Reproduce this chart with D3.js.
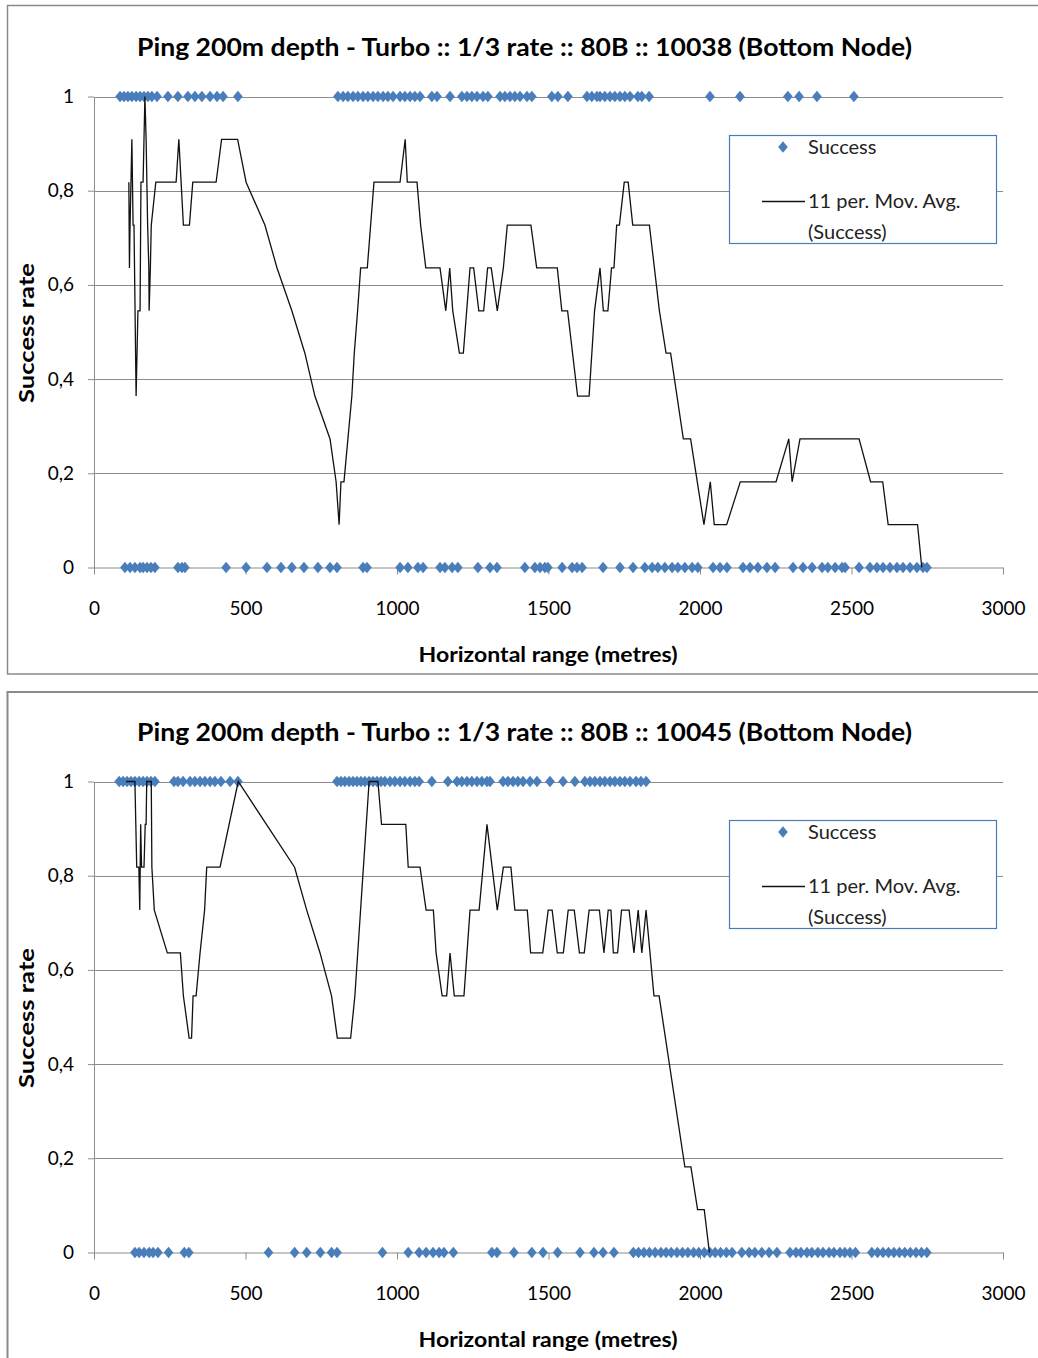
<!DOCTYPE html>
<html>
<head>
<meta charset="utf-8">
<script src="https://cdn.jsdelivr.net/npm/d3@7"></script>
<style>
  body { margin: 0; background: #fff; }
  svg { display: block; }
</style>
</head>
<body>
<div id="chart"></div>
<script>
// axis ticks
const xTicks = [0, 500, 1000, 1500, 2000, 2500, 3000]
const yTicks = [0, 0.2, 0.4, 0.6, 0.8, 1]
const yTickLabels = ['0', '0,2', '0,4', '0,6', '0,8', '1']

const titles = [
  'Ping 200m depth - Turbo :: 1/3 rate :: 80B :: 10038 (Bottom Node)',
  'Ping 200m depth - Turbo :: 1/3 rate :: 80B :: 10045 (Bottom Node)',
]
const xLabel = 'Horizontal range (metres)'
const yLabel = 'Success rate'
const legendLabels = ['Success', '11 per. Mov. Avg.', '(Success)']

// node 10038: ranges of pings that succeeded (1) / failed (0)
const success10038 = [86, 99, 112, 125, 139, 152, 165, 178, 191, 208, 244, 277, 310, 333, 356, 383, 406, 426, 475,
  805, 822, 838, 855, 871, 888, 904, 921, 937, 954, 970, 987, 1010, 1026, 1043, 1059, 1076, 1115, 1132, 1175,
  1214, 1231, 1247, 1264, 1284, 1300, 1340, 1356, 1373, 1389, 1406, 1429, 1445, 1511, 1531, 1564,
  1627, 1643, 1660, 1670, 1686, 1703, 1719, 1736, 1752, 1769, 1795, 1808, 1832, 2033, 2132, 2290, 2327, 2386, 2508]
const failure10038 = [102, 119, 135, 152, 162, 175, 188, 201, 277, 290, 300, 436, 502, 571, 617, 653, 693, 739, 779, 802,
  888, 901, 1010, 1036, 1069, 1086, 1142, 1158, 1182, 1201, 1267, 1307, 1330, 1422, 1455, 1472, 1488, 1498,
  1545, 1578, 1594, 1611, 1680, 1736, 1779, 1818, 1842, 1861, 1884, 1908, 1927, 1950, 1974, 1993,
  2043, 2066, 2089, 2142, 2165, 2191, 2221, 2248, 2307, 2340, 2370, 2403, 2422, 2446, 2469, 2479,
  2525, 2561, 2584, 2604, 2627, 2650, 2670, 2693, 2716, 2736, 2749]
const movAvg10038 = [
  [115, 0.818], [117, 0.636], [119, 0.727], [125, 0.909], [129, 0.727], [132, 0.727], [139, 0.364], [142, 0.455],
  [145, 0.545], [152, 0.545], [155, 0.818], [162, 0.818], [168, 1], [172, 0.909], [177, 0.727], [181, 0.636],
  [182, 0.545], [186, 0.636], [189, 0.727], [204, 0.818], [271, 0.818], [280, 0.909], [295, 0.727], [315, 0.727],
  [326, 0.818], [403, 0.818], [421, 0.909], [474, 0.909], [502, 0.818], [564, 0.727], [604, 0.636], [653, 0.545],
  [696, 0.455], [729, 0.364], [779, 0.273], [799, 0.182], [809, 0.091], [815, 0.182], [825, 0.182], [838, 0.273],
  [851, 0.364], [859, 0.455], [870, 0.545], [880, 0.636], [902, 0.636], [924, 0.818], [1010, 0.818], [1027, 0.909],
  [1034, 0.818], [1066, 0.818], [1078, 0.727], [1095, 0.636], [1142, 0.636], [1161, 0.545], [1174, 0.636],
  [1184, 0.545], [1206, 0.455], [1219, 0.455], [1241, 0.636], [1253, 0.636], [1270, 0.545], [1286, 0.545],
  [1299, 0.636], [1311, 0.636], [1331, 0.545], [1351, 0.636], [1364, 0.727], [1442, 0.727], [1461, 0.636],
  [1529, 0.636], [1544, 0.545], [1563, 0.545], [1596, 0.364], [1634, 0.364], [1652, 0.545], [1670, 0.636],
  [1681, 0.545], [1696, 0.545], [1708, 0.636], [1716, 0.636], [1725, 0.727], [1734, 0.727], [1750, 0.818],
  [1763, 0.818], [1778, 0.727], [1833, 0.727], [1866, 0.545], [1888, 0.455], [1903, 0.455], [1945, 0.273],
  [1969, 0.273], [2013, 0.091], [2034, 0.182], [2047, 0.091], [2088, 0.091], [2133, 0.182], [2251, 0.182],
  [2293, 0.273], [2304, 0.182], [2330, 0.273], [2525, 0.273], [2563, 0.182], [2603, 0.182], [2621, 0.091],
  [2718, 0.091], [2732, 0],
]

// node 10045
const success10045 = [83, 96, 109, 122, 135, 149, 162, 175, 188, 201, 264, 277, 294, 317, 333, 350, 366, 383, 399,
  419, 449, 475, 802, 815, 828, 842, 855, 868, 881, 894, 908, 921, 934, 947, 960, 977, 993, 1010, 1026, 1043,
  1059, 1073, 1115, 1168, 1198, 1214, 1231, 1247, 1264, 1280, 1297, 1307, 1350, 1366, 1383, 1399, 1416, 1439,
  1462, 1505, 1548, 1587, 1620, 1637, 1653, 1670, 1686, 1703, 1719, 1736, 1752, 1769, 1789, 1805, 1822]
const failure10045 = [135, 149, 165, 182, 195, 211, 246, 298, 313, 576, 662, 702, 747, 784, 802, 952, 1037,
  1073, 1096, 1119, 1139, 1155, 1186, 1313, 1330, 1386, 1445, 1482, 1530, 1604, 1650, 1680, 1716,
  1780, 1797, 1815, 1833, 1852, 1871, 1888, 1905, 1924, 1942, 1960, 1979, 1996, 2014, 2033, 2050, 2068, 2087, 2106,
  2138, 2162, 2181, 2204, 2228, 2254, 2297, 2317, 2333, 2353, 2369, 2389, 2406, 2426, 2442, 2462, 2478, 2495,
  2513, 2567, 2586, 2604, 2622, 2640, 2658, 2676, 2694, 2713, 2731, 2749]
const movAvg10045 = [
  [106, 1], [135, 1], [141, 0.818], [148, 0.818], [151, 0.727], [154, 0.909], [157, 0.818], [165, 0.818],
  [169, 0.909], [172, 0.909], [174, 1], [189, 1], [191, 0.818], [199, 0.727], [242, 0.636], [285, 0.636],
  [295, 0.545], [314, 0.455], [322, 0.455], [327, 0.545], [337, 0.545], [350, 0.636], [365, 0.727], [372, 0.818],
  [416, 0.818], [476, 1], [662, 0.818], [702, 0.727], [746, 0.636], [784, 0.545], [803, 0.455], [847, 0.455],
  [861, 0.545], [908, 1], [937, 1], [949, 0.909], [1029, 0.909], [1037, 0.818], [1076, 0.818], [1096, 0.727],
  [1120, 0.727], [1129, 0.636], [1149, 0.545], [1164, 0.545], [1175, 0.636], [1189, 0.545], [1221, 0.545],
  [1241, 0.727], [1271, 0.727], [1297, 0.909], [1331, 0.727], [1351, 0.818], [1376, 0.818], [1389, 0.727],
  [1430, 0.727], [1441, 0.636], [1481, 0.636], [1499, 0.727], [1512, 0.727], [1529, 0.636], [1549, 0.636],
  [1565, 0.727], [1585, 0.727], [1602, 0.636], [1618, 0.636], [1634, 0.727], [1668, 0.727], [1683, 0.636],
  [1697, 0.727], [1706, 0.727], [1714, 0.636], [1728, 0.636], [1741, 0.727], [1766, 0.727], [1782, 0.636],
  [1796, 0.727], [1808, 0.636], [1822, 0.727], [1848, 0.545], [1865, 0.545], [1950, 0.182], [1970, 0.182],
  [1992, 0.091], [2014, 0.091], [2031, 0],
]

const width = 1038
const height = 1358
const blue = '#4a7ebb'
const grid = '#8c8c8c'
const font = 'Lato, "Open Sans", sans-serif'

const svg = d3.select('#chart').append('svg')
  .attr('width', width)
  .attr('height', height)
  .style('font-family', font)

// diamond marker, a bit squarer than d3.symbolDiamond
const diamond = {
  draw(ctx, size) {
    const r = Math.sqrt(size) / 2
    ctx.moveTo(0, -r * 1.1)
    ctx.lineTo(r * 0.92, 0)
    ctx.lineTo(0, r * 1.1)
    ctx.lineTo(-r * 0.92, 0)
    ctx.closePath()
  },
}
const markerSize = 110

const panels = [
  { top: 0, title: titles[0], success: success10038, failure: failure10038, avg: movAvg10038 },
  { top: 685, title: titles[1], success: success10045, failure: failure10045, avg: movAvg10045 },
]

const x = d3.scaleLinear().domain([0, 3000]).range([94, 1003])

panels.forEach((p, i) => {
  const g = svg.append('g')
  const y = d3.scaleLinear().domain([0, 1]).range([p.top + 567.5, p.top + 96.5])

  // frame
  g.append('rect')
    .attr('x', 7.5)
    .attr('y', i === 0 ? 5.5 : 692)
    .attr('width', 1040)
    .attr('height', i === 0 ? 668.5 : 700)
    .attr('fill', 'none')
    .attr('stroke', '#8a8a8a')
    .attr('stroke-width', i === 0 ? 1.5 : 2)

  g.append('text')
    .attr('x', 524.5)
    .attr('y', p.top + 56)
    .attr('text-anchor', 'middle')
    .attr('font-size', 25)
    .attr('font-weight', 'bold')
    .attr('textLength', 775)
    .attr('lengthAdjust', 'spacingAndGlyphs')
    .text(p.title)

  // gridlines
  g.append('g')
    .selectAll('line')
    .data(yTicks.filter((d) => d > 0))
    .join('line')
    .attr('x1', x(0))
    .attr('x2', x(3000))
    .attr('y1', (d) => Math.round(y(d)) + 0.5)
    .attr('y2', (d) => Math.round(y(d)) + 0.5)
    .attr('stroke', grid)
    .attr('stroke-width', 1)

  const yAxis = g.append('g')
    .attr('transform', `translate(${x(0)},0)`)
    .call(d3.axisLeft(y).tickValues(yTicks).tickFormat((d, j) => yTickLabels[j]).tickSize(6).tickSizeOuter(0).tickPadding(14))
  yAxis.select('.domain').attr('stroke', grid)
  yAxis.selectAll('.tick line').attr('stroke', grid)
  yAxis.selectAll('text').attr('font-size', 19).attr('font-family', font).attr('fill', '#000')

  const xAxis = g.append('g')
    .attr('transform', `translate(0,${y(0)})`)
    .call(d3.axisBottom(x).tickValues(xTicks).tickFormat(d3.format('d')).tickSize(7).tickSizeOuter(0).tickPadding(27))
  xAxis.select('.domain').attr('stroke', grid)
  xAxis.selectAll('.tick line').attr('stroke', grid)
  xAxis.selectAll('text').attr('font-size', 19).attr('font-family', font).attr('fill', '#000')

  g.append('text')
    .attr('x', 548)
    .attr('y', p.top + 662)
    .attr('text-anchor', 'middle')
    .attr('font-size', 21)
    .attr('font-weight', 'bold')
    .attr('textLength', 259)
    .attr('lengthAdjust', 'spacingAndGlyphs')
    .text(xLabel)

  g.append('text')
    .attr('transform', `translate(34,${p.top + 333}) rotate(-90)`)
    .attr('text-anchor', 'middle')
    .attr('font-size', 20)
    .attr('font-weight', 'bold')
    .attr('textLength', 140)
    .attr('lengthAdjust', 'spacingAndGlyphs')
    .text(yLabel)

  // success markers
  const pts = p.success.map((d) => [d, 1]).concat(p.failure.map((d) => [d, 0]))
  g.append('g')
    .selectAll('path')
    .data(pts)
    .join('path')
    .attr('transform', (d) => `translate(${x(d[0])},${y(d[1])})`)
    .attr('d', d3.symbol(diamond, markerSize))
    .attr('fill', blue)

  // moving average
  g.append('path')
    .datum(p.avg)
    .attr('fill', 'none')
    .attr('stroke', '#111')
    .attr('stroke-width', 1.3)
    .attr('stroke-linejoin', 'miter')
    .attr('d', d3.line().x((d) => x(d[0])).y((d) => y(d[1])))

  // legend
  const lg = g.append('g').attr('transform', `translate(0,${p.top})`)
  lg.append('rect')
    .attr('x', 729.5)
    .attr('y', 135.5)
    .attr('width', 267)
    .attr('height', 108)
    .attr('fill', '#fff')
    .attr('stroke', blue)
    .attr('stroke-width', 1.2)
  lg.append('path')
    .attr('transform', 'translate(783,147)')
    .attr('d', d3.symbol(diamond, markerSize))
    .attr('fill', blue)
  lg.append('line')
    .attr('x1', 762)
    .attr('x2', 805)
    .attr('y1', 201.5)
    .attr('y2', 201.5)
    .attr('stroke', '#111')
    .attr('stroke-width', 1.3)
  lg.selectAll('text')
    .data(legendLabels)
    .join('text')
    .attr('x', 808)
    .attr('y', (d, j) => [154, 208, 239][j])
    .attr('font-size', 20)
    .attr('fill', '#222')
    .text((d) => d)
})
</script>
</body>
</html>
